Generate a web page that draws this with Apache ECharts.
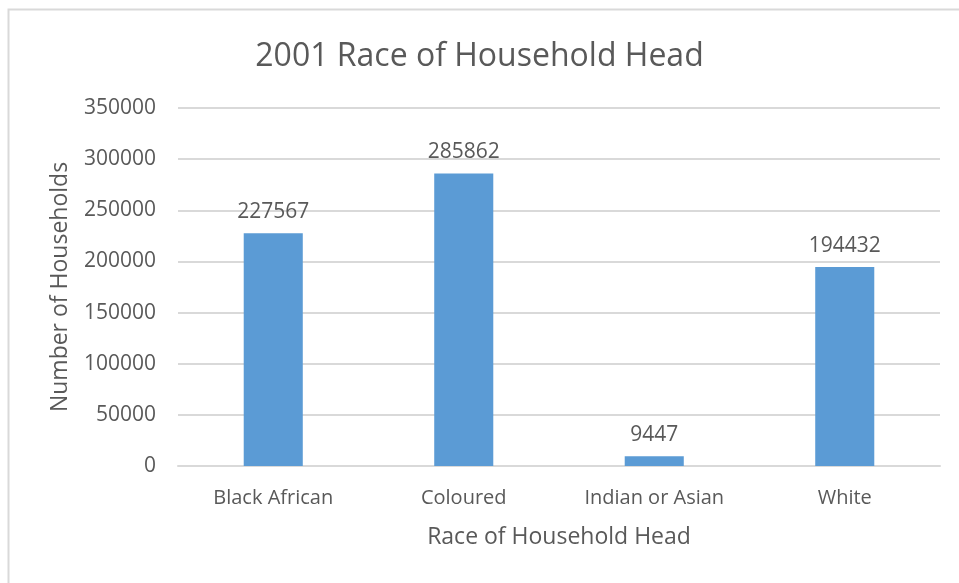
<!DOCTYPE html>
<html>
<head>
<meta charset="utf-8">
<script src="https://cdn.jsdelivr.net/npm/echarts@6/dist/echarts.min.js"></script>
<style>
  html, body { margin: 0; padding: 0; background: #ffffff; }
  #chart { width: 959px; height: 583px; }
</style>
</head>
<body>
<div id="chart"></div>
<script>
// Households in 2001 by race of the household head
const categories = ['Black African', 'Coloured', 'Indian or Asian', 'White'];
const households = [227567, 285862, 9447, 194432];
const yTicks = { min: 0, max: 350000, interval: 50000 };

const textColor = '#595959';
const fontFamily = '"Open Sans", "Liberation Sans", sans-serif';

const chart = echarts.init(document.getElementById('chart'), null, { renderer: 'canvas' });

chart.setOption({
  backgroundColor: '#ffffff',
  animation: false,
  graphic: [
    {
      type: 'rect',
      shape: { x: 8.5, y: 9.5, width: 1200, height: 1200 },
      style: { fill: 'none', stroke: '#d9d9d9', lineWidth: 2 },
      silent: true
    }
  ],
  title: {
    text: '2001 Race of Household Head',
    left: 'center',
    top: 36,
    textStyle: { color: textColor, fontFamily: fontFamily, fontSize: 32, fontWeight: 'normal' }
  },
  grid: { left: 178, right: 19, top: 108, bottom: 117 },
  xAxis: {
    type: 'category',
    data: categories,
    name: 'Race of Household Head',
    nameLocation: 'middle',
    nameGap: 60,
    nameTextStyle: { color: textColor, fontFamily: fontFamily, fontSize: 23 },
    axisLine: { show: true, lineStyle: { color: '#d9d9d9', width: 2 } },
    axisTick: { show: false },
    axisLabel: { color: textColor, fontFamily: fontFamily, fontSize: 20, margin: 22, interval: 0 }
  },
  yAxis: {
    type: 'value',
    min: yTicks.min,
    max: yTicks.max,
    interval: yTicks.interval,
    name: 'Number of Households',
    nameLocation: 'middle',
    nameGap: 106,
    nameTextStyle: { color: textColor, fontFamily: fontFamily, fontSize: 23 },
    axisLine: { show: false },
    axisTick: { show: false },
    axisLabel: {
      color: textColor,
      fontFamily: fontFamily,
      fontSize: 21,
      margin: 22,
      formatter: function (v) { return String(v); }
    },
    splitLine: { lineStyle: { color: '#d9d9d9', width: 2 } }
  },
  series: [
    {
      type: 'bar',
      data: households,
      barWidth: '31%',
      itemStyle: { color: '#5b9bd5' },
      label: {
        show: true,
        position: 'top',
        distance: 11,
        color: textColor,
        fontFamily: fontFamily,
        fontSize: 21,
        formatter: function (p) { return String(p.value); }
      }
    }
  ]
});
</script>
</body>
</html>
